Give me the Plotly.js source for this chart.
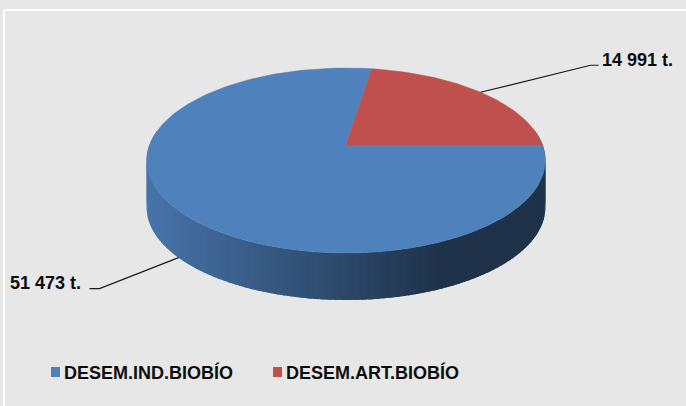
<!DOCTYPE html>
<html>
<head>
<meta charset="utf-8">
<script src="https://cdn.plot.ly/plotly-3.0.1.min.js"></script>
<style>html,body{margin:0;padding:0;background:#e7e7e7;}#chart{width:686px;height:406px;}</style>
</head>
<body>
<div id="chart"></div>
<script>
// ---- data ----
const categories = ['DESEM.IND.BIOBÍO', 'DESEM.ART.BIOBÍO'];
const values = [51473, 14991];
const valueLabels = ['51 473 t.', '14 991 t.'];
const colors = ['#4f81bd', '#c0504d'];

// ---- style / geometry (pixels) ----
const W = 686, H = 406;
const CX = 346, CY = 145;      // projected pie centre
const A = 196.5, C = 89.9;     // projected radii
const K = 0.1676;              // perspective factor
const DEPTH = 47;              // wall thickness
const ROTATION = 90;           // first slice angle (deg, clockwise from 12 o'clock)
const FONT = {family: 'Liberation Sans, Arial, sans-serif', size: 18, color: '#0d0d0d'};

function P(deg) {
  const t = deg * Math.PI / 180;
  const u = Math.sin(t), v = Math.cos(t);
  const d = 1 + K * v;
  return [CX + A * u / d, CY - C * v / d];
}
function hexToRgb(h) { return [1,3,5].map(i => parseInt(h.substr(i,2),16)); }
function shade(hex, f) {
  const c = hexToRgb(hex).map(x => Math.round(x * f));
  return 'rgb(' + c.join(',') + ')';
}

const total = values.reduce((a,b) => a+b, 0);
const slices = [];
let start = ROTATION;
values.forEach((v, i) => {
  const sweep = v / total * 360;
  slices.push({start: start, end: start + sweep, mid: start + sweep/2, color: colors[i], i: i});
  start += sweep;
});
function sliceAt(deg) {
  const d = ((deg % 360) + 360) % 360;
  for (const s of slices) {
    for (const off of [0, 360, -360]) {
      if (d + off >= s.start && d + off <= s.end) return s;
    }
  }
  return slices[0];
}

const traces = [];
// ---- side wall (front half) ----
const thL = 180 + Math.acos(-K) * 180 / Math.PI;   // left extreme
const rightDeg = 180 - (thL - 180);                 // right extreme
const N = 120;
const xl = P(thL)[0], xr = P(rightDeg)[0];
for (let j = 0; j < N; j++) {
  const a1 = rightDeg + (thL - rightDeg) * j / N;
  const a2 = rightDeg + (thL - rightDeg) * Math.min(N, j + 1.8) / N;
  const am = rightDeg + (thL - rightDeg) * (j + 0.5) / N;
  const p1 = P(a1), p2 = P(a2), pm = P(am);
  const s = sliceAt(am);
  const t = (pm[0] - xl) / (xr - xl);
  const f = Math.max(0.39, 0.88 - 0.66 * t);
  const col = shade(s.color, f);
  traces.push({
    type: 'scatter', mode: 'lines', fill: 'toself', fillcolor: col,
    x: [p1[0], pm[0], p2[0], p2[0], pm[0], p1[0], p1[0]],
    y: [p1[1], pm[1], p2[1], p2[1] + DEPTH, pm[1] + DEPTH, p1[1] + DEPTH, p1[1]],
    line: {width: 0}, hoverinfo: 'skip', showlegend: false
  });
}
// ---- top face slices ----
slices.forEach(s => {
  const xs = [CX], ys = [CY];
  const steps = Math.max(4, Math.ceil((s.end - s.start) / 1.5));
  for (let j = 0; j <= steps; j++) {
    const p = P(s.start + (s.end - s.start) * j / steps);
    xs.push(p[0]); ys.push(p[1]);
  }
  xs.push(CX); ys.push(CY);
  traces.push({
    type: 'scatter', mode: 'lines', fill: 'toself', fillcolor: s.color,
    x: xs, y: ys, line: {color: s.color, width: 0.5},
    name: categories[s.i], hoverinfo: 'name', showlegend: false
  });
});

// ---- leader lines & labels ----
const annotations = [];
const shapes = [
  {type: 'line', xref: 'x', yref: 'y', x0: 4, y0: 10, x1: W, y1: 10, line: {color: '#ffffff', width: 2}},
  {type: 'line', xref: 'x', yref: 'y', x0: 4, y0: 10, x1: 4, y1: H, line: {color: '#ffffff', width: 2}}
];
slices.forEach(s => {
  const p = P(s.mid);
  const front = Math.cos(s.mid * Math.PI / 180) < 0;
  const ax = p[0], ay = p[1] + (front ? DEPTH : 0);
  const right = Math.sin(s.mid * Math.PI / 180) > 0;
  let ex, ey, hx, tx, ty, anchor;
  if (right) { ex = ax + 110; ey = ay - 27; hx = ex + 8; tx = hx + 1; ty = ey - 5; anchor = 'left'; }
  else { ex = ax - 79; ey = ay + 31; hx = ex - 10; tx = hx - 7; ty = ey - 6; anchor = 'right'; }
  traces.push({
    type: 'scatter', mode: 'lines', x: [ax, ex, hx], y: [ay, ey, ey],
    line: {color: '#1a1a1a', width: 1.2}, hoverinfo: 'skip', showlegend: false
  });
  annotations.push({x: tx, y: ty, xref: 'x', yref: 'y', text: '<b>' + valueLabels[s.i] + '</b>',
    showarrow: false, xanchor: anchor, yanchor: 'middle', font: FONT});
});

// ---- legend ----
const legendX = [51, 273];
categories.forEach((c, i) => {
  shapes.push({type: 'rect', xref: 'x', yref: 'y', x0: legendX[i], x1: legendX[i] + 9, y0: 367, y1: 377,
    fillcolor: colors[i], line: {width: 0}});
  annotations.push({x: legendX[i] + 11, y: 372, xref: 'x', yref: 'y', text: '<b>' + c + '</b>',
    showarrow: false, xanchor: 'left', yanchor: 'middle', font: FONT});
});

const layout = {
  width: W, height: H,
  margin: {l: 0, r: 0, t: 0, b: 0},
  paper_bgcolor: '#e7e7e7', plot_bgcolor: 'rgba(0,0,0,0)',
  xaxis: {range: [0, W], visible: false, fixedrange: true},
  yaxis: {range: [H, 0], visible: false, fixedrange: true},
  showlegend: false,
  shapes: shapes, annotations: annotations
};
Plotly.newPlot('chart', traces, layout, {displayModeBar: false, staticPlot: true});
</script>
</body>
</html>
